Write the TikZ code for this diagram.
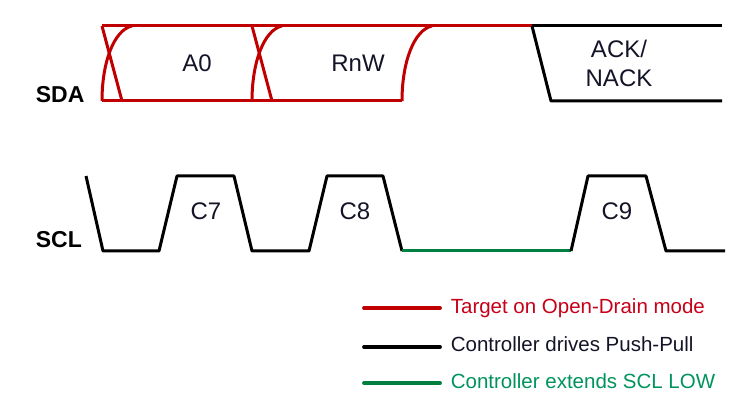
\documentclass[tikz,border=0pt]{standalone}
\usepackage{fontspec}
\setmainfont{Liberation Sans}
\usetikzlibrary{positioning}

\definecolor{odred}{RGB}{192,0,0}
\definecolor{extgreen}{RGB}{0,128,64}
\definecolor{labelink}{RGB}{20,20,40}

\begin{document}
\begin{tikzpicture}[x=1pt,y=-1pt,line width=3pt,line join=round,
	red wave/.style={draw=odred},
	black wave/.style={draw=black},
	green wave/.style={draw=extgreen},
	bit label/.style={font=\fontsize{24}{29}\selectfont,text=labelink,anchor=base},
	sig label/.style={font=\fontsize{23}{28}\selectfont\bfseries,anchor=base west},
	key text/.style={font=\fontsize{20.5}{24}\selectfont,anchor=base west},
	key line/.style={line width=3.8pt,line cap=round}]
	
	\useasboundingbox (0,0) rectangle (748,403);
	
	% signal names
	\node[sig label] (sda) at (31,102.5) {SDA};
	\node[sig label] (scl) at (31,248)   {SCL};
	
	% SDA: target drives (open drain)
	\draw[red wave] (102,26) -- (532,26);
	\draw[red wave] (102,101) -- (402,101);
	\foreach \x in {102,252}{
		\draw[red wave] (\x,26) -- (\x+20,101);
		\draw[red wave] (\x,101) .. controls (\x,62) and (\x+12,30) .. (\x+30,26);
	}
	\draw[red wave] (402,101) .. controls (402,62) and (414,30) .. (432,26);
	
	% SDA: controller drives ACK/NACK
	\draw[black wave] (532,26) -- (722,26);
	\draw[black wave] (532,26) -- (551,101) -- (722,101);
	
	\node[bit label] (a0)  at (197,72) {A0};
	\node[bit label] (rnw) at (358,72) {RnW};
	\node[bit label] (ack) at (619,58) {ACK/};
	\node[bit label] (nack) at (619,86.5) {NACK};
	
	% SCL
	\draw[black wave] (86,176) -- (103,251) -- (159,251) -- (177,176) -- (234,176)
	-- (252,251) -- (309,251) -- (327,176) -- (383,176) -- (402,251);
	\draw[green wave] (402,251) -- (571,251);
	\draw[black wave] (571,251) -- (588,176) -- (646,176) -- (666,251) -- (725,251);
	
	\node[bit label] (c7) at (206,220) {C7};
	\node[bit label] (c8) at (355,220) {C8};
	\node[bit label] (c9) at (617,220) {C9};
	
	% legend
	\node[key text,text=odred!90!magenta] (keyred)   at (446,313.5) {Target on Open-Drain mode};
	\node[key text,text=labelink]         (keyblack) at (446,351.7) {Controller drives Push-Pull};
	\node[key text,text=extgreen!85!cyan] (keygreen) at (446,388.3) {Controller extends SCL LOW};
	\draw[key line,draw=odred]    (364,308) -- (440,308);
	\draw[key line,draw=black]    (364,347) -- (440,347);
	\draw[key line,draw=extgreen] (364,383) -- (440,383);
\end{tikzpicture}
\end{document}
